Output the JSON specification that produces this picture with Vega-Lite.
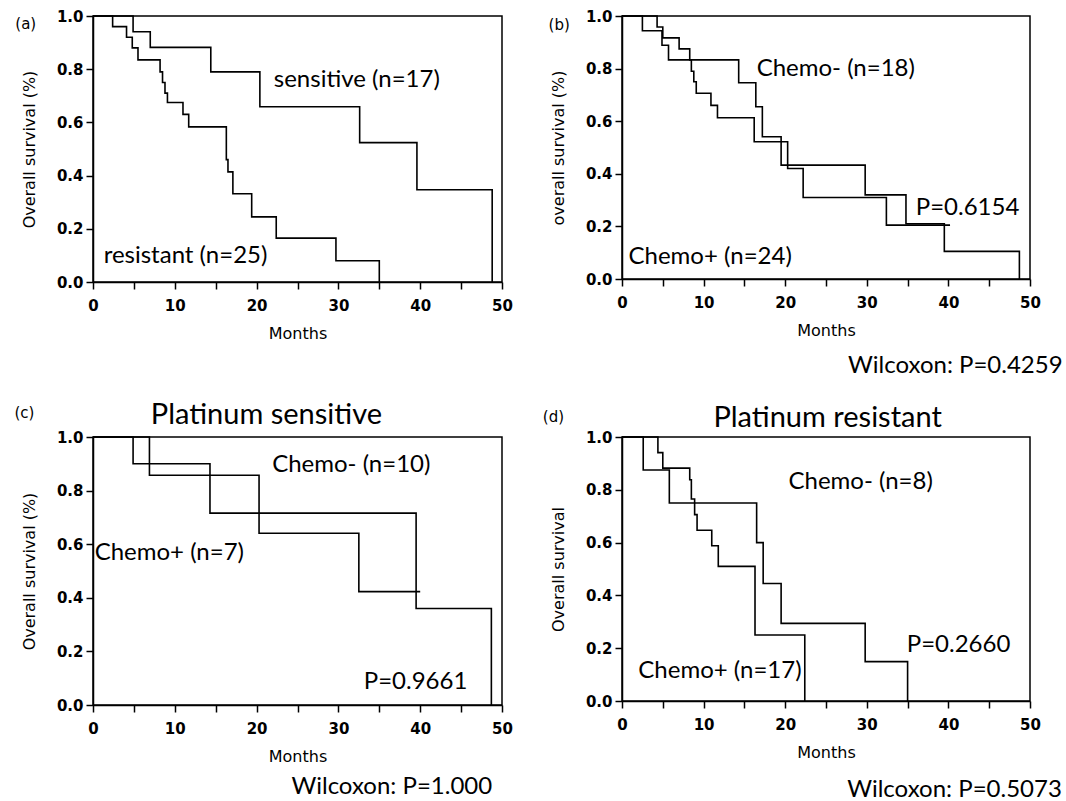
{
  "$schema": "https://vega.github.io/schema/vega-lite/v6.json",
  "background": "white",
  "padding": {"left": 13, "top": 8, "right": 0, "bottom": 0},
  "columns": 2,
  "bounds": "flush",
  "spacing": {"row": 155, "column": 120},
  "config": {
    "view": {"stroke": "black", "strokeWidth": 1.5},
    "axis": {
      "grid": false,
      "domainColor": "black",
      "domainWidth": 1.5,
      "tickColor": "black",
      "tickWidth": 1.5,
      "tickSize": 7,
      "labelColor": "black",
      "titleColor": "black",
      "labelFont": "DejaVu Sans",
      "labelFontSize": 15,
      "labelFontWeight": "bold",
      "titleFont": "DejaVu Sans",
      "titleFontSize": 16,
      "titleFontWeight": "normal",
      "labelOverlap": false
    },
    "axisX": {"labelFlush": false, "labelPadding": 9, "titlePadding": 12},
    "axisY": {"labelPadding": 3, "titlePadding": 19}
  },
  "datasets": {
    "km": [
      {"panel": "a", "group": "sensitive", "month": 0, "surv": 1},
      {"panel": "a", "group": "sensitive", "month": 4.9, "surv": 0.941},
      {"panel": "a", "group": "sensitive", "month": 7.0, "surv": 0.882},
      {"panel": "a", "group": "sensitive", "month": 14.4, "surv": 0.79},
      {"panel": "a", "group": "sensitive", "month": 20.4, "surv": 0.659},
      {"panel": "a", "group": "sensitive", "month": 32.6, "surv": 0.524},
      {"panel": "a", "group": "sensitive", "month": 39.6, "surv": 0.347},
      {"panel": "a", "group": "sensitive", "month": 48.8, "surv": 0},
      {"panel": "a", "group": "resistant", "month": 0, "surv": 1},
      {"panel": "a", "group": "resistant", "month": 2.4, "surv": 0.96},
      {"panel": "a", "group": "resistant", "month": 4.1, "surv": 0.92},
      {"panel": "a", "group": "resistant", "month": 4.8, "surv": 0.88},
      {"panel": "a", "group": "resistant", "month": 5.5, "surv": 0.835},
      {"panel": "a", "group": "resistant", "month": 8.2, "surv": 0.79},
      {"panel": "a", "group": "resistant", "month": 8.5, "surv": 0.75},
      {"panel": "a", "group": "resistant", "month": 8.8, "surv": 0.71},
      {"panel": "a", "group": "resistant", "month": 9.1, "surv": 0.675},
      {"panel": "a", "group": "resistant", "month": 11.0, "surv": 0.63},
      {"panel": "a", "group": "resistant", "month": 11.7, "surv": 0.583},
      {"panel": "a", "group": "resistant", "month": 16.3, "surv": 0.46},
      {"panel": "a", "group": "resistant", "month": 16.5, "surv": 0.414},
      {"panel": "a", "group": "resistant", "month": 17.1, "surv": 0.332},
      {"panel": "a", "group": "resistant", "month": 19.4, "surv": 0.245},
      {"panel": "a", "group": "resistant", "month": 22.4, "surv": 0.165},
      {"panel": "a", "group": "resistant", "month": 29.7, "surv": 0.08},
      {"panel": "a", "group": "resistant", "month": 35.0, "surv": 0},
      {"panel": "b", "group": "Chemo-", "month": 0, "surv": 1},
      {"panel": "b", "group": "Chemo-", "month": 2.5, "surv": 0.944},
      {"panel": "b", "group": "Chemo-", "month": 4.9, "surv": 0.889},
      {"panel": "b", "group": "Chemo-", "month": 5.7, "surv": 0.833},
      {"panel": "b", "group": "Chemo-", "month": 14.3, "surv": 0.746},
      {"panel": "b", "group": "Chemo-", "month": 16.4, "surv": 0.655},
      {"panel": "b", "group": "Chemo-", "month": 17.2, "surv": 0.541},
      {"panel": "b", "group": "Chemo-", "month": 19.5, "surv": 0.433},
      {"panel": "b", "group": "Chemo-", "month": 29.8, "surv": 0.32},
      {"panel": "b", "group": "Chemo-", "month": 34.8, "surv": 0.21},
      {"panel": "b", "group": "Chemo-", "month": 39.5, "surv": 0.105},
      {"panel": "b", "group": "Chemo-", "month": 48.7, "surv": 0},
      {"panel": "b", "group": "Chemo+", "month": 0, "surv": 1},
      {"panel": "b", "group": "Chemo+", "month": 4.3, "surv": 0.958},
      {"panel": "b", "group": "Chemo+", "month": 5.0, "surv": 0.917},
      {"panel": "b", "group": "Chemo+", "month": 7.0, "surv": 0.875},
      {"panel": "b", "group": "Chemo+", "month": 8.3, "surv": 0.833},
      {"panel": "b", "group": "Chemo+", "month": 8.5, "surv": 0.79},
      {"panel": "b", "group": "Chemo+", "month": 8.8, "surv": 0.75},
      {"panel": "b", "group": "Chemo+", "month": 9.1, "surv": 0.706},
      {"panel": "b", "group": "Chemo+", "month": 10.9, "surv": 0.66},
      {"panel": "b", "group": "Chemo+", "month": 11.7, "surv": 0.613},
      {"panel": "b", "group": "Chemo+", "month": 16.2, "surv": 0.522},
      {"panel": "b", "group": "Chemo+", "month": 20.3, "surv": 0.42},
      {"panel": "b", "group": "Chemo+", "month": 22.2, "surv": 0.31},
      {"panel": "b", "group": "Chemo+", "month": 32.4, "surv": 0.205},
      {"panel": "b", "group": "Chemo+", "month": 40.2, "surv": 0.205},
      {"panel": "c", "group": "Chemo-", "month": 0, "surv": 1},
      {"panel": "c", "group": "Chemo-", "month": 4.9, "surv": 0.9},
      {"panel": "c", "group": "Chemo-", "month": 14.3, "surv": 0.716},
      {"panel": "c", "group": "Chemo-", "month": 39.5, "surv": 0.36},
      {"panel": "c", "group": "Chemo-", "month": 48.7, "surv": 0},
      {"panel": "c", "group": "Chemo+", "month": 0, "surv": 1},
      {"panel": "c", "group": "Chemo+", "month": 6.9, "surv": 0.857},
      {"panel": "c", "group": "Chemo+", "month": 20.3, "surv": 0.641},
      {"panel": "c", "group": "Chemo+", "month": 32.5, "surv": 0.423},
      {"panel": "c", "group": "Chemo+", "month": 40.0, "surv": 0.423},
      {"panel": "d", "group": "Chemo-", "month": 0, "surv": 1},
      {"panel": "d", "group": "Chemo-", "month": 2.6, "surv": 0.875},
      {"panel": "d", "group": "Chemo-", "month": 5.8, "surv": 0.75},
      {"panel": "d", "group": "Chemo-", "month": 16.5, "surv": 0.6},
      {"panel": "d", "group": "Chemo-", "month": 17.3, "surv": 0.445},
      {"panel": "d", "group": "Chemo-", "month": 19.5, "surv": 0.294},
      {"panel": "d", "group": "Chemo-", "month": 29.8, "surv": 0.149},
      {"panel": "d", "group": "Chemo-", "month": 35.0, "surv": 0},
      {"panel": "d", "group": "Chemo+", "month": 0, "surv": 1},
      {"panel": "d", "group": "Chemo+", "month": 4.4, "surv": 0.941},
      {"panel": "d", "group": "Chemo+", "month": 5.0, "surv": 0.882},
      {"panel": "d", "group": "Chemo+", "month": 8.3, "surv": 0.838},
      {"panel": "d", "group": "Chemo+", "month": 8.5, "surv": 0.765},
      {"panel": "d", "group": "Chemo+", "month": 8.9, "surv": 0.706},
      {"panel": "d", "group": "Chemo+", "month": 9.2, "surv": 0.647},
      {"panel": "d", "group": "Chemo+", "month": 11.0, "surv": 0.588},
      {"panel": "d", "group": "Chemo+", "month": 11.8, "surv": 0.51},
      {"panel": "d", "group": "Chemo+", "month": 16.3, "surv": 0.25},
      {"panel": "d", "group": "Chemo+", "month": 22.4, "surv": 0}
    ]
  },
  "concat": [
    {
      "width": 409,
      "height": 266,
      "layer": [
        {
          "data": {"name": "km"},
          "transform": [{"filter": "datum.panel === 'a'"}],
          "mark": {"type": "line", "interpolate": "step-after", "color": "black", "strokeWidth": 1.6},
          "encoding": {
            "x": {"field": "month", "type": "quantitative", "scale": {"domain": [0, 50], "nice": false},
                  "axis": {"title": "Months", "values": [0,5,10,15,20,25,30,35,40,45,50], "labelExpr": "datum.value % 10 === 0 ? datum.label : ''"}},
            "y": {"field": "surv", "type": "quantitative", "scale": {"domain": [0, 1], "nice": false},
                  "axis": {"title": "Overall survival (%)", "values": [0,0.1,0.2,0.3,0.4,0.5,0.6,0.7,0.8,0.9,1], "labelExpr": "round(datum.value*10) % 2 === 0 ? format(datum.value, '.1f') : ''"}},
            "detail": {"field": "group", "type": "nominal"}
          }
        },
        {"data": {"values": [{}]}, "mark": {"type": "text", "text": "(a)", "align": "left", "baseline": "alphabetic", "font": "DejaVu Sans", "fontSize": 15, "color": "black"},
         "encoding": {"x": {"datum": -9.5, "type": "quantitative"}, "y": {"datum": 0.951, "type": "quantitative"}}},
        {"data": {"values": [{}]}, "mark": {"type": "text", "text": "sensitive (n=17)", "align": "left", "baseline": "alphabetic", "font": "Lato", "fontSize": 24, "color": "black"},
         "encoding": {"x": {"datum": 22.1, "type": "quantitative"}, "y": {"datum": 0.733, "type": "quantitative"}}},
        {"data": {"values": [{}]}, "mark": {"type": "text", "text": "resistant (n=25)", "align": "left", "baseline": "alphabetic", "font": "Lato", "fontSize": 24, "color": "black"},
         "encoding": {"x": {"datum": 1.3, "type": "quantitative"}, "y": {"datum": 0.07, "type": "quantitative"}}}
      ]
    },
    {
      "width": 408,
      "height": 263,
      "layer": [
        {
          "data": {"name": "km"},
          "transform": [{"filter": "datum.panel === 'b'"}],
          "mark": {"type": "line", "interpolate": "step-after", "color": "black", "strokeWidth": 1.6},
          "encoding": {
            "x": {"field": "month", "type": "quantitative", "scale": {"domain": [0, 50], "nice": false},
                  "axis": {"title": "Months", "values": [0,5,10,15,20,25,30,35,40,45,50], "labelExpr": "datum.value % 10 === 0 ? datum.label : ''"}},
            "y": {"field": "surv", "type": "quantitative", "scale": {"domain": [0, 1], "nice": false},
                  "axis": {"title": "overall survival (%)", "values": [0,0.1,0.2,0.3,0.4,0.5,0.6,0.7,0.8,0.9,1], "labelExpr": "round(datum.value*10) % 2 === 0 ? format(datum.value, '.1f') : ''"}},
            "detail": {"field": "group", "type": "nominal"}
          }
        },
        {"data": {"values": [{}]}, "mark": {"type": "text", "text": "(b)", "align": "left", "baseline": "alphabetic", "font": "DejaVu Sans", "fontSize": 15, "color": "black"},
         "encoding": {"x": {"datum": -9.0, "type": "quantitative"}, "y": {"datum": 0.947, "type": "quantitative"}}},
        {"data": {"values": [{}]}, "mark": {"type": "text", "text": "Chemo-  (n=18)", "align": "left", "baseline": "alphabetic", "font": "Lato", "fontSize": 24, "color": "black"},
         "encoding": {"x": {"datum": 16.5, "type": "quantitative"}, "y": {"datum": 0.771, "type": "quantitative"}}},
        {"data": {"values": [{}]}, "mark": {"type": "text", "text": "P=0.6154", "align": "left", "baseline": "alphabetic", "font": "Lato", "fontSize": 24, "color": "black"},
         "encoding": {"x": {"datum": 36.0, "type": "quantitative"}, "y": {"datum": 0.242, "type": "quantitative"}}},
        {"data": {"values": [{}]}, "mark": {"type": "text", "text": "Chemo+  (n=24)", "align": "left", "baseline": "alphabetic", "font": "Lato", "fontSize": 24, "color": "black"},
         "encoding": {"x": {"datum": 0.8, "type": "quantitative"}, "y": {"datum": 0.058, "type": "quantitative"}}},
        {"data": {"values": [{}]}, "mark": {"type": "text", "text": "Wilcoxon: P=0.4259", "align": "right", "baseline": "alphabetic", "font": "Lato", "fontSize": 24, "color": "black"},
         "encoding": {"x": {"datum": 54.0, "type": "quantitative"}, "y": {"datum": -0.359, "type": "quantitative"}}}
      ]
    },
    {
      "width": 409,
      "height": 268,
      "layer": [
        {
          "data": {"name": "km"},
          "transform": [{"filter": "datum.panel === 'c'"}],
          "mark": {"type": "line", "interpolate": "step-after", "color": "black", "strokeWidth": 1.6},
          "encoding": {
            "x": {"field": "month", "type": "quantitative", "scale": {"domain": [0, 50], "nice": false},
                  "axis": {"title": "Months", "values": [0,5,10,15,20,25,30,35,40,45,50], "labelExpr": "datum.value % 10 === 0 ? datum.label : ''"}},
            "y": {"field": "surv", "type": "quantitative", "scale": {"domain": [0, 1], "nice": false},
                  "axis": {"title": "Overall survival (%)", "values": [0,0.1,0.2,0.3,0.4,0.5,0.6,0.7,0.8,0.9,1], "labelExpr": "round(datum.value*10) % 2 === 0 ? format(datum.value, '.1f') : ''"}},
            "detail": {"field": "group", "type": "nominal"}
          }
        },
        {"data": {"values": [{}]}, "mark": {"type": "text", "text": "(c)", "align": "left", "baseline": "alphabetic", "font": "DejaVu Sans", "fontSize": 15, "color": "black"},
         "encoding": {"x": {"datum": -9.6, "type": "quantitative"}, "y": {"datum": 1.072, "type": "quantitative"}}},
        {"data": {"values": [{}]}, "mark": {"type": "text", "text": "Platinum sensitive", "align": "center", "baseline": "alphabetic", "font": "Lato", "fontSize": 29, "color": "black"},
         "encoding": {"x": {"datum": 21.2, "type": "quantitative"}, "y": {"datum": 1.049, "type": "quantitative"}}},
        {"data": {"values": [{}]}, "mark": {"type": "text", "text": "Chemo-  (n=10)", "align": "left", "baseline": "alphabetic", "font": "Lato", "fontSize": 24, "color": "black"},
         "encoding": {"x": {"datum": 21.9, "type": "quantitative"}, "y": {"datum": 0.869, "type": "quantitative"}}},
        {"data": {"values": [{}]}, "mark": {"type": "text", "text": "Chemo+  (n=7)", "align": "left", "baseline": "alphabetic", "font": "Lato", "fontSize": 24, "color": "black"},
         "encoding": {"x": {"datum": 0.2, "type": "quantitative"}, "y": {"datum": 0.541, "type": "quantitative"}}},
        {"data": {"values": [{}]}, "mark": {"type": "text", "text": "P=0.9661", "align": "left", "baseline": "alphabetic", "font": "Lato", "fontSize": 24, "color": "black"},
         "encoding": {"x": {"datum": 33.1, "type": "quantitative"}, "y": {"datum": 0.06, "type": "quantitative"}}},
        {"data": {"values": [{}]}, "mark": {"type": "text", "text": "Wilcoxon: P=1.000", "align": "right", "baseline": "alphabetic", "font": "Lato", "fontSize": 24, "color": "black"},
         "encoding": {"x": {"datum": 48.8, "type": "quantitative"}, "y": {"datum": -0.331, "type": "quantitative"}}}
      ]
    },
    {
      "width": 408,
      "height": 264,
      "layer": [
        {
          "data": {"name": "km"},
          "transform": [{"filter": "datum.panel === 'd'"}],
          "mark": {"type": "line", "interpolate": "step-after", "color": "black", "strokeWidth": 1.6},
          "encoding": {
            "x": {"field": "month", "type": "quantitative", "scale": {"domain": [0, 50], "nice": false},
                  "axis": {"title": "Months", "values": [0,5,10,15,20,25,30,35,40,45,50], "labelExpr": "datum.value % 10 === 0 ? datum.label : ''"}},
            "y": {"field": "surv", "type": "quantitative", "scale": {"domain": [0, 1], "nice": false},
                  "axis": {"title": "Overall survival", "values": [0,0.1,0.2,0.3,0.4,0.5,0.6,0.7,0.8,0.9,1], "labelExpr": "round(datum.value*10) % 2 === 0 ? format(datum.value, '.1f') : ''"}},
            "detail": {"field": "group", "type": "nominal"}
          }
        },
        {"data": {"values": [{}]}, "mark": {"type": "text", "text": "(d)", "align": "left", "baseline": "alphabetic", "font": "DejaVu Sans", "fontSize": 15, "color": "black"},
         "encoding": {"x": {"datum": -9.7, "type": "quantitative"}, "y": {"datum": 1.058, "type": "quantitative"}}},
        {"data": {"values": [{}]}, "mark": {"type": "text", "text": "Platinum resistant", "align": "center", "baseline": "alphabetic", "font": "Lato", "fontSize": 29, "color": "black"},
         "encoding": {"x": {"datum": 25.2, "type": "quantitative"}, "y": {"datum": 1.039, "type": "quantitative"}}},
        {"data": {"values": [{}]}, "mark": {"type": "text", "text": "Chemo-  (n=8)", "align": "left", "baseline": "alphabetic", "font": "Lato", "fontSize": 24, "color": "black"},
         "encoding": {"x": {"datum": 20.4, "type": "quantitative"}, "y": {"datum": 0.803, "type": "quantitative"}}},
        {"data": {"values": [{}]}, "mark": {"type": "text", "text": "P=0.2660", "align": "left", "baseline": "alphabetic", "font": "Lato", "fontSize": 24, "color": "black"},
         "encoding": {"x": {"datum": 34.9, "type": "quantitative"}, "y": {"datum": 0.184, "type": "quantitative"}}},
        {"data": {"values": [{}]}, "mark": {"type": "text", "text": "Chemo+  (n=17)", "align": "left", "baseline": "alphabetic", "font": "Lato", "fontSize": 24, "color": "black"},
         "encoding": {"x": {"datum": 2.0, "type": "quantitative"}, "y": {"datum": 0.088, "type": "quantitative"}}},
        {"data": {"values": [{}]}, "mark": {"type": "text", "text": "Wilcoxon: P=0.5073", "align": "right", "baseline": "alphabetic", "font": "Lato", "fontSize": 24, "color": "black"},
         "encoding": {"x": {"datum": 53.9, "type": "quantitative"}, "y": {"datum": -0.363, "type": "quantitative"}}}
      ]
    }
  ]
}
